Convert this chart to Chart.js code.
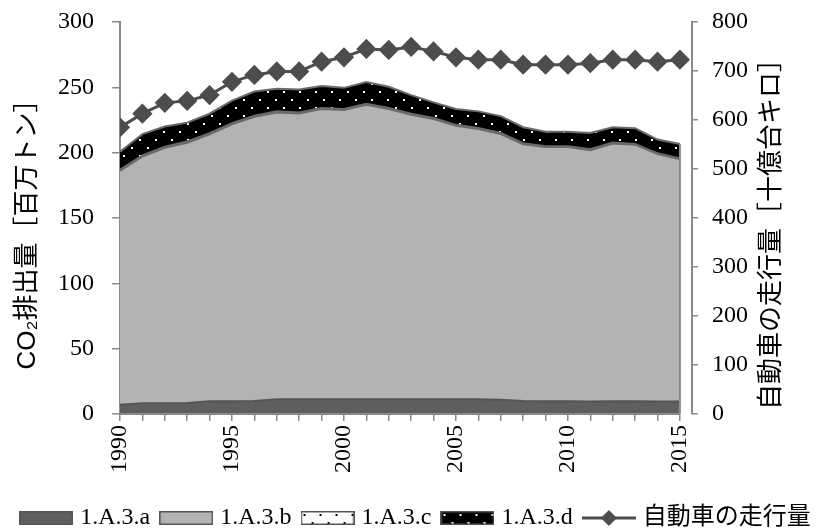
<!DOCTYPE html>
<html>
<head>
<meta charset="utf-8">
<script src="https://cdn.jsdelivr.net/npm/chart.js@4/dist/chart.umd.min.js"></script>
<style>
  body { margin: 0; background: #fff; }
  #wrap { width: 835px; height: 531px; }
</style>
</head>
<body>
<div id="wrap"><canvas id="c" width="835" height="531"></canvas></div>
<script>
// data
const years = [1990, 1991, 1992, 1993, 1994, 1995, 1996, 1997, 1998, 1999, 2000, 2001, 2002,
               2003, 2004, 2005, 2006, 2007, 2008, 2009, 2010, 2011, 2012, 2013, 2014, 2015];
const seriesNames = ["1.A.3.a", "1.A.3.b", "1.A.3.c", "1.A.3.d", "自動車の走行量"];
// CO2 [百万トン], stacked
const co2A = [7.0, 8.3, 8.3, 8.5, 9.8, 9.8, 10.0, 11.2, 11.2, 11.2, 11.2, 11.2, 11.2,
              11.2, 11.2, 11.2, 11.2, 11.0, 10.0, 9.7, 9.7, 9.6, 9.7, 9.7, 9.6, 9.6];
const co2B = [179.1, 188.8, 195.4, 199.1, 204.3, 211.9, 217.4, 219.6, 218.8, 222.2, 221.4, 225.5, 222.2,
              217.8, 214.5, 209.4, 206.9, 203.3, 196.5, 194.6, 194.6, 192.3, 197.3, 196.4, 189.3, 185.4];
const co2C = [0.9, 0.9, 0.9, 0.9, 0.9, 0.9, 0.9, 0.8, 0.8, 0.8, 0.8, 0.8, 0.8,
              0.8, 0.8, 0.7, 0.7, 0.7, 0.7, 0.7, 0.7, 0.7, 0.7, 0.6, 0.6, 0.6];
const co2D = [13.7, 16.2, 15.4, 14.5, 14.8, 17.2, 18.5, 17.4, 17.5, 16.8, 16.2, 16.5, 16.2,
              14.2, 12.0, 12.1, 12.8, 13.0, 12.3, 11.0, 11.0, 12.4, 11.8, 12.0, 10.5, 11.1];
// 走行量 [十億台キロ]
const vehicleKm = [585, 613, 635, 639, 651, 678, 692, 699, 699, 719, 728, 745, 743,
                   749, 740, 728, 723, 723, 713, 713, 713, 716, 723, 723, 719, 723];
const leftTicks = { min: 0, max: 300, step: 50 };
const rightTicks = { min: 0, max: 800, step: 100 };
const leftTitle = "CO₂排出量［百万トン］";
const rightTitle = "自動車の走行量［十億台キロ］";

const FONT = '"Liberation Serif", "Noto Sans CJK JP", serif';
const TITLE_FONT = '"Liberation Sans", "Noto Sans CJK JP", sans-serif';
const AXIS_GRAY = "#8a8a8a";
const LINE_GRAY = "#4d4d4d";

function dotPattern(bg, dot) {
  const p = document.createElement("canvas");
  p.width = 16; p.height = 16;
  const g = p.getContext("2d");
  g.fillStyle = bg; g.fillRect(0, 0, 16, 16);
  g.fillStyle = dot;
  g.fillRect(3, 3, 2, 2);
  g.fillRect(11, 11, 2, 2);
  return g.createPattern(p, "repeat");
}

const fills = ["#5f5f5f", "#b3b3b3", dotPattern("#ffffff", "#000000"), dotPattern("#000000", "#ffffff")];

// legend swatches
function boxSwatch(fill) {
  const s = document.createElement("canvas");
  s.width = 54; s.height = 14;
  const g = s.getContext("2d");
  g.fillStyle = fill; g.fillRect(0, 0, 54, 14);
  g.strokeStyle = "#555"; g.lineWidth = 1.5;
  g.strokeRect(0.75, 0.75, 52.5, 12.5);
  return s;
}
function lineSwatch() {
  const s = document.createElement("canvas");
  s.width = 54; s.height = 18;
  const g = s.getContext("2d");
  g.strokeStyle = LINE_GRAY; g.lineWidth = 3;
  g.beginPath(); g.moveTo(0, 9); g.lineTo(54, 9); g.stroke();
  g.fillStyle = LINE_GRAY;
  g.beginPath(); g.moveTo(27, 1); g.lineTo(35, 9); g.lineTo(27, 17); g.lineTo(19, 9); g.closePath(); g.fill();
  return s;
}
const swatches = [boxSwatch(fills[0]), boxSwatch(fills[1]), boxSwatch(fills[2]), boxSwatch(fills[3]), lineSwatch()];

const areaData = [co2A, co2B, co2C, co2D];
const datasets = areaData.map((vals, i) => ({
  label: seriesNames[i],
  data: vals,
  yAxisID: "y",
  backgroundColor: fills[i],
  borderColor: i === 0 ? "#555555" : "#6a6a6a",
  borderWidth: 2,
  pointRadius: 0,
  fill: i === 0 ? "origin" : "-1",
  stack: "co2",
  tension: 0
}));
datasets.push({
  label: seriesNames[4],
  data: vehicleKm,
  yAxisID: "y1",
  borderColor: LINE_GRAY,
  backgroundColor: LINE_GRAY,
  borderWidth: 3,
  pointStyle: "rectRot",
  pointRadius: 8,
  pointBackgroundColor: LINE_GRAY,
  pointBorderColor: LINE_GRAY,
  fill: false,
  order: -1,
  tension: 0
});

// both axis titles read bottom-to-top, centred a bit below the plot centre
function drawTitle(ctx, text, x, y) {
  ctx.save();
  ctx.translate(x, y);
  ctx.rotate(-Math.PI / 2);
  ctx.font = "26px " + TITLE_FONT;
  ctx.fillStyle = "#000";
  ctx.textAlign = "center";
  ctx.textBaseline = "middle";
  ctx.fillText(text, 0, 0);
  ctx.restore();
}

const extrasPlugin = {
  id: "extras",
  afterLayout(chart) {
    // legend sits a little lower in the reference
    chart.legend.top += 9;
    chart.legend.bottom += 9;
  },
  afterDraw(chart) {
    const ctx = chart.ctx;
    const area = chart.chartArea;
    const x = chart.scales.x, y = chart.scales.y;
    const midY = (area.top + area.bottom) / 2 + 10;
    drawTitle(ctx, leftTitle, 28, midY);
    drawTitle(ctx, rightTitle, chart.scales.y1.left + 80, midY);

    // x axis line stops at the last year, with a closing edge on the stacked area
    const last = years.length - 1;
    const xEnd = x.getPixelForValue(years[last]);
    const top = co2A[last] + co2B[last] + co2C[last] + co2D[last];
    ctx.save();
    ctx.strokeStyle = AXIS_GRAY;
    ctx.lineWidth = 2;
    ctx.beginPath();
    ctx.moveTo(area.left, area.bottom);
    ctx.lineTo(xEnd, area.bottom);
    ctx.moveTo(xEnd, y.getPixelForValue(top));
    ctx.lineTo(xEnd, area.bottom);
    ctx.stroke();
    ctx.restore();
  }
};

// keep the tick labels from pushing the plot area around
function noPad(s) { s.paddingTop = 0; s.paddingBottom = 0; s.paddingLeft = 0; s.paddingRight = 0; }

Chart.defaults.font.family = FONT;
Chart.defaults.color = "#000";

new Chart(document.getElementById("c"), {
  type: "line",
  data: { labels: years, datasets: datasets },
  plugins: [extrasPlugin],
  options: {
    responsive: false,
    animation: false,
    devicePixelRatio: 1,
    layout: { padding: { top: 22, right: 0, left: 0, bottom: 0 } },
    plugins: {
      tooltip: { enabled: false },
      legend: {
        position: "bottom",
        labels: {
          usePointStyle: true,
          pointStyleWidth: 44,   // swatch images are 54 wide, so they sit closer to the text
          boxHeight: 14,
          padding: 14,
          font: { size: 24 },
          sort: (a, b) => a.datasetIndex - b.datasetIndex,
          generateLabels(chart) {
            const items = Chart.defaults.plugins.legend.labels.generateLabels(chart);
            items.forEach(it => { it.pointStyle = swatches[it.datasetIndex]; });
            return items;
          }
        }
      }
    },
    scales: {
      x: {
        type: "linear",
        min: 1990,
        max: 2015.54,
        afterFit(s) { s.height = 69; noPad(s); },
        ticks: {
          stepSize: 1,
          includeBounds: false,
          autoSkip: false,
          maxRotation: 90,
          minRotation: 90,
          padding: 4,
          font: { size: 24 },
          callback: v => (v % 5 === 0 ? String(v) : "")
        },
        grid: { display: true, drawOnChartArea: false, drawTicks: true, tickLength: 7, color: AXIS_GRAY, lineWidth: 1.5 },
        border: { display: false }
      },
      y: {
        position: "left",
        stacked: true,
        min: leftTicks.min,
        max: leftTicks.max,
        afterFit(s) { s.width = 120; noPad(s); },
        ticks: { stepSize: leftTicks.step, padding: 18, font: { size: 24 } },
        grid: { display: true, drawOnChartArea: false, tickLength: 8, color: AXIS_GRAY, lineWidth: 1.5 },
        border: { display: true, color: AXIS_GRAY, width: 2 }
      },
      y1: {
        position: "right",
        min: rightTicks.min,
        max: rightTicks.max,
        afterFit(s) { s.width = 143; noPad(s); },
        ticks: { stepSize: rightTicks.step, padding: 14, font: { size: 24 } },
        grid: { display: true, drawOnChartArea: false, tickLength: 6, color: AXIS_GRAY, lineWidth: 1.5 },
        border: { display: true, color: AXIS_GRAY, width: 2 }
      }
    }
  }
});
</script>
</body>
</html>
